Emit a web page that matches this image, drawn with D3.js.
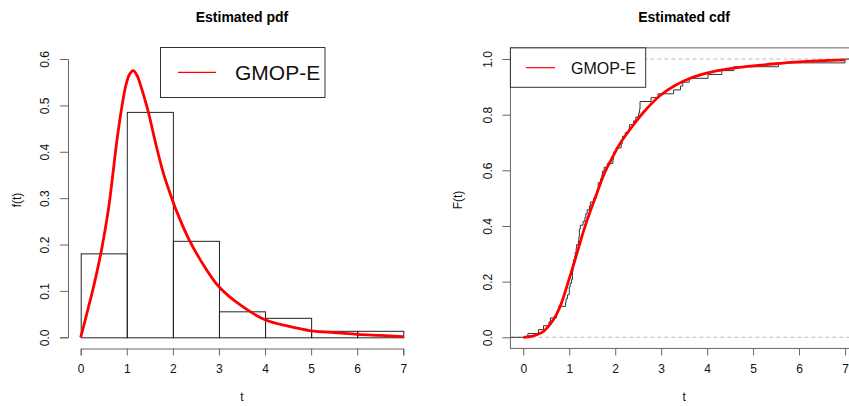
<!DOCTYPE html>
<html>
<head>
<meta charset="utf-8">
<script src="https://cdn.jsdelivr.net/npm/d3@7"></script>
<style>
  html, body { margin: 0; padding: 0; background: #fff; }
  svg { display: block; font-family: "Liberation Sans", Arial, sans-serif; }
</style>
</head>
<body>
<svg id="chart" width="849" height="406"></svg>
<script>
// ---------- data ----------
const binEdges = [0, 1, 2, 3, 4, 5, 6, 7];
const histDensity = [0.181, 0.486, 0.208, 0.056, 0.042, 0.014, 0.014];

const pdfT = [0, 0.08, 0.16, 0.25, 0.35, 0.455, 0.6, 0.69, 0.78, 0.89, 0.98, 1.06, 1.14, 1.22, 1.32, 1.40, 1.47, 1.61, 1.79, 1.94, 2.08, 2.33, 2.59, 3.0, 3.5, 4.0, 4.5, 5.0, 5.5, 6.0, 6.5, 7.0];
const pdfF = [0, 0.03, 0.062, 0.097, 0.14, 0.19, 0.275, 0.345, 0.42, 0.495, 0.543, 0.567, 0.575, 0.565, 0.537, 0.51, 0.485, 0.425, 0.355, 0.310, 0.272, 0.215, 0.168, 0.109, 0.067, 0.038, 0.024, 0.014, 0.010, 0.0065, 0.004, 0.0015];

const cdfT = [0, 0.2, 0.36, 0.43, 0.65, 0.8, 0.98, 1.12, 1.34, 1.6, 1.78, 1.92, 2.1, 2.39, 2.65, 2.97, 3.3, 3.62, 4.2, 4.8, 5.29, 6.0, 7.0];
const cdfF = [0, 0.004, 0.014, 0.02, 0.062, 0.11, 0.20, 0.275, 0.397, 0.517, 0.595, 0.640, 0.695, 0.762, 0.815, 0.868, 0.905, 0.93, 0.957, 0.972, 0.98, 0.99, 0.997];

const sample = [0.1, 0.33, 0.44, 0.56, 0.59, 0.72, 0.74, 0.77, 0.92, 0.93, 0.96, 1.00, 1.00, 1.02, 1.05, 1.07, 1.07, 1.08, 1.08, 1.09, 1.12, 1.13, 1.15, 1.16, 1.20, 1.21, 1.22, 1.22, 1.24, 1.30, 1.34, 1.36, 1.39, 1.44, 1.46, 1.53, 1.59, 1.60, 1.63, 1.63, 1.68, 1.71, 1.72, 1.76, 1.83, 1.95, 1.96, 1.97, 2.02, 2.13, 2.15, 2.16, 2.22, 2.30, 2.31, 2.40, 2.45, 2.51, 2.53, 2.54, 2.54, 2.78, 2.93, 3.27, 3.42, 3.47, 3.61, 4.02, 4.32, 4.58, 5.55, 7.0];

const xTicks = [0, 1, 2, 3, 4, 5, 6, 7];
const yTicksPdf = [0, 0.1, 0.2, 0.3, 0.4, 0.5, 0.6];
const yTicksCdf = [0, 0.2, 0.4, 0.6, 0.8, 1.0];
const legendLabel = "GMOP-E";

// ---------- layout ----------
const svg = d3.select("#chart");
const axisCol = "#666";
const red = "#ff0000";

const xL = d3.scaleLinear().domain([0, 7]).range([80.7, 403.3]);
const yL = d3.scaleLinear().domain([0, 0.6]).range([337.3, 59]);
const xR = d3.scaleLinear().domain([0, 7]).range([523.3, 845]);
const yR = d3.scaleLinear().domain([0, 1]).range([337.3, 59]);

// ---------- LEFT: histogram + pdf ----------
const gL = svg.append("g");
const bins = histDensity.map((d, i) => ({x0: binEdges[i], x1: binEdges[i + 1], d}));
gL.selectAll("rect.bar").data(bins).join("rect")
  .attr("class", "bar")
  .attr("x", b => xL(b.x0) + 0.5)
  .attr("y", b => yL(b.d) + 0.5)
  .attr("width", b => xL(b.x1) - xL(b.x0))
  .attr("height", b => yL(0) - yL(b.d))
  .attr("fill", "none").attr("stroke", "#222").attr("stroke-width", 1);

gL.append("path")
  .datum(pdfT.map((t, i) => [t, pdfF[i]]))
  .attr("d", d3.line().x(d => xL(d[0])).y(d => yL(d[1])).curve(d3.curveCatmullRom.alpha(0.5)))
  .attr("fill", "none").attr("stroke", red).attr("stroke-width", 2.8)
  .attr("stroke-linejoin", "round");

// left x axis
const axXL = d3.axisBottom(xL).tickValues(xTicks).tickSize(7).tickPadding(9).tickFormat(d3.format("d"));
const gxL = gL.append("g").attr("transform", "translate(0,348.5)").call(axXL);
// left y axis
const axYL = d3.axisLeft(yL).tickValues(yTicksPdf).tickSize(8).tickFormat(d3.format(".1f"));
const gyL = gL.append("g").attr("transform", "translate(68,0)").call(axYL);

// ---------- RIGHT: ecdf + cdf ----------
const gR = svg.append("g");
const bx0 = xR(-0.28), bx1 = xR(7.28), by0 = yR(1.04), by1 = yR(-0.04);

// dashed reference lines
[0, 1].forEach(v => {
  gR.append("line")
    .attr("x1", bx0).attr("x2", bx1).attr("y1", yR(v)).attr("y2", yR(v))
    .attr("stroke", "#bbb").attr("stroke-width", 1).attr("stroke-dasharray", "4,3");
});

// ecdf steps
const s = sample.slice().sort((a, b) => a - b);
const n = s.length;
const ecdfPts = [[-0.28, 0]].concat(s.map((v, i) => [v, (i + 1) / n])).concat([[7.28, 1]]);
gR.append("path")
  .datum(ecdfPts)
  .attr("d", d3.line().x(d => xR(d[0])).y(d => yR(d[1])).curve(d3.curveStepAfter))
  .attr("fill", "none").attr("stroke", "#333").attr("stroke-width", 1);

gR.append("path")
  .datum(cdfT.map((t, i) => [t, cdfF[i]]))
  .attr("d", d3.line().x(d => xR(d[0])).y(d => yR(d[1])).curve(d3.curveCatmullRom.alpha(0.5)))
  .attr("fill", "none").attr("stroke", red).attr("stroke-width", 2.8)
  .attr("stroke-linejoin", "round");

// box
gR.append("rect")
  .attr("x", bx0).attr("y", by0).attr("width", bx1 - bx0).attr("height", by1 - by0)
  .attr("fill", "none").attr("stroke", axisCol).attr("stroke-width", 1);

const axXR = d3.axisBottom(xR).tickValues(xTicks).tickSize(7).tickPadding(9).tickFormat(d3.format("d"));
const gxR = gR.append("g").attr("transform", `translate(0,${by1})`).call(axXR);
gxR.select(".domain").remove();
const axYR = d3.axisLeft(yR).tickValues(yTicksCdf).tickSize(8).tickFormat(d3.format(".1f"));
const gyR = gR.append("g").attr("transform", `translate(${bx0},0)`).call(axYR);
gyR.select(".domain").remove();

// axis styling
[gxL, gyL, gxR, gyR].forEach(g => {
  g.selectAll(".domain").attr("stroke", axisCol);
  g.selectAll(".tick line").attr("stroke", axisCol);
  g.selectAll(".tick text").attr("fill", "#111").style("font-size", "12px")
    .style("font-family", '"Liberation Sans", Arial, sans-serif');
});
// rotate y tick labels (R style)
[[gyL, 45, 68], [gyR, 488, bx0]].forEach(([g, cx, gx]) => {
  g.selectAll(".tick text")
    .attr("x", null)
    .attr("text-anchor", "middle")
    .attr("transform", `translate(${cx - gx},0) rotate(-90)`)
    .attr("dy", "0.35em");
});

// ---------- titles and labels ----------
const lx = (xL(-0.28) + xL(7.28)) / 2;
const rx = (bx0 + bx1) / 2;
svg.append("text").attr("x", lx).attr("y", 22).attr("text-anchor", "middle")
  .style("font-weight", "bold").style("font-size", "14px").text("Estimated pdf");
svg.append("text").attr("x", rx).attr("y", 22).attr("text-anchor", "middle")
  .style("font-weight", "bold").style("font-size", "14px").text("Estimated cdf");

svg.append("text").attr("x", lx).attr("y", 401).attr("text-anchor", "middle")
  .style("font-size", "12px").attr("fill", "#111").text("t");
svg.append("text").attr("x", rx).attr("y", 401).attr("text-anchor", "middle")
  .style("font-size", "12px").attr("fill", "#111").text("t");
svg.append("text").attr("transform", "translate(17,200) rotate(-90)").attr("dy", "0.35em")
  .attr("text-anchor", "middle").style("font-size", "12px").attr("fill", "#111").text("f(t)");
svg.append("text").attr("transform", "translate(458,200) rotate(-90)").attr("dy", "0.35em")
  .attr("text-anchor", "middle").style("font-size", "12px").attr("fill", "#111").text("F(t)");

// ---------- legends ----------
// left legend
svg.append("rect").attr("x", 160.5).attr("y", 47.5).attr("width", 164.5).attr("height", 50)
  .attr("fill", "#fff").attr("stroke", "#333").attr("stroke-width", 1);
svg.append("line").attr("x1", 178).attr("x2", 216).attr("y1", 72.3).attr("y2", 72.3)
  .attr("stroke", red).attr("stroke-width", 1.2);
svg.append("text").attr("x", 235).attr("y", 80).style("font-size", "21px").attr("fill", "#111").text(legendLabel);

// right legend
svg.append("rect").attr("x", bx0).attr("y", by0).attr("width", 645.7 - bx0).attr("height", 87.3 - by0)
  .attr("fill", "#fff").attr("stroke", "#333").attr("stroke-width", 1);
svg.append("line").attr("x1", 526).attr("x2", 555).attr("y1", 67.7).attr("y2", 67.7)
  .attr("stroke", red).attr("stroke-width", 1.2);
svg.append("text").attr("x", 571).attr("y", 73.5).style("font-size", "16px").attr("fill", "#111").text(legendLabel);
</script>
</body>
</html>
